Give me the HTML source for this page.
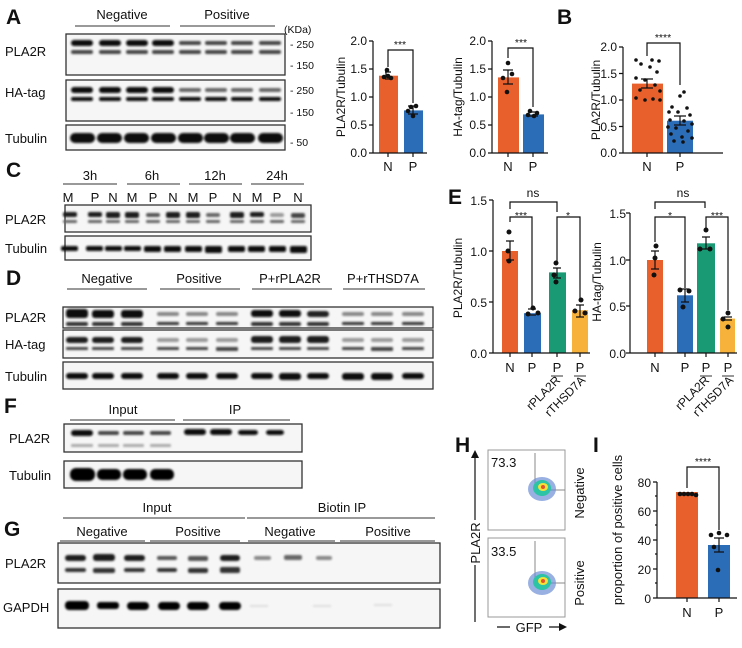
<!DOCTYPE html>
<html><head><meta charset="utf-8"><style>
body{margin:0;background:#fff}
text{font-family:"Liberation Sans",Arial,sans-serif;fill:#111}
.L{font-size:21px;font-weight:bold}
.t{font-size:13px}
.s{font-size:12px}
.k{font-size:10.5px}
.box{fill:#f6f6f6;stroke:#333;stroke-width:1.3}
.ln{stroke:#333;stroke-width:1;fill:none}
.ax{stroke:#111;stroke-width:1.2;fill:none}
</style></head><body>
<svg width="742" height="643" viewBox="0 0 742 643" xmlns="http://www.w3.org/2000/svg">
<defs><filter id="b" x="-20%" y="-50%" width="140%" height="200%"><feGaussianBlur stdDeviation="1"/></filter></defs>

<!-- A -->
<text class="L" x="6" y="24">A</text>
<text class="t" x="122" y="19" text-anchor="middle">Negative</text>
<text class="t" x="227" y="19" text-anchor="middle">Positive</text>
<line class="ln" x1="75" y1="26" x2="170" y2="26"/><line class="ln" x1="180" y1="26" x2="275" y2="26"/>
<rect class="box" x="66" y="34" width="219" height="41"/>
<rect class="box" x="66" y="80" width="219" height="41"/>
<rect class="box" x="66" y="125" width="219" height="25"/>
<text class="t" x="5" y="56">PLA2R</text><text class="t" x="5" y="97">HA-tag</text><text class="t" x="5" y="143">Tubulin</text>
<g class="k"><text x="284" y="33">(KDa)</text><text x="290" y="48">- 250</text><text x="290" y="69">- 150</text><text x="290" y="94">- 250</text><text x="290" y="116">- 150</text><text x="290" y="146">- 50</text></g>
<g filter="url(#b)">
<g fill="#111"><rect x="71" y="40" width="22" height="6" rx="3"/><rect x="99" y="40" width="22" height="6" rx="3"/><rect x="126" y="40" width="22" height="6" rx="3"/><rect x="152" y="40" width="22" height="6" rx="3"/></g>
<g fill="#444"><rect x="71" y="50" width="22" height="4" rx="2"/><rect x="99" y="50" width="22" height="4" rx="2"/><rect x="126" y="50" width="22" height="4" rx="2"/><rect x="152" y="50" width="22" height="4" rx="2"/></g>
<g fill="#444"><rect x="179" y="41" width="22" height="4" rx="2"/><rect x="205" y="41" width="22" height="4" rx="2"/><rect x="231" y="41" width="22" height="4" rx="2"/><rect x="259" y="41" width="22" height="4" rx="2"/>
<rect x="179" y="50" width="22" height="4" rx="2"/><rect x="205" y="50" width="22" height="4" rx="2"/><rect x="231" y="50" width="22" height="4" rx="2"/><rect x="259" y="50" width="22" height="4" rx="2"/></g>
<g fill="#111"><rect x="71" y="87" width="22" height="6" rx="3"/><rect x="99" y="87" width="22" height="6" rx="3"/><rect x="126" y="87" width="22" height="6" rx="3"/><rect x="152" y="87" width="22" height="6" rx="3"/>
<rect x="71" y="97" width="22" height="4" rx="2"/><rect x="99" y="97" width="22" height="4" rx="2"/><rect x="126" y="97" width="22" height="4" rx="2"/><rect x="152" y="97" width="22" height="4" rx="2"/>
<rect x="179" y="97" width="22" height="4" rx="2"/><rect x="205" y="97" width="22" height="4" rx="2"/><rect x="231" y="97" width="22" height="4" rx="2"/><rect x="259" y="97" width="22" height="4" rx="2"/></g>
<g fill="#666"><rect x="179" y="88" width="22" height="4" rx="2"/><rect x="205" y="88" width="22" height="4" rx="2"/><rect x="231" y="88" width="22" height="4" rx="2"/><rect x="259" y="88" width="22" height="4" rx="2"/></g>
<g fill="#0a0a0a"><rect x="70" y="133" width="25" height="10" rx="5"/><rect x="97" y="133" width="25" height="10" rx="5"/><rect x="124" y="133" width="25" height="10" rx="5"/><rect x="151" y="133" width="25" height="10" rx="5"/><rect x="178" y="133" width="25" height="10" rx="5"/><rect x="204" y="133" width="25" height="10" rx="5"/><rect x="230" y="133" width="25" height="10" rx="5"/><rect x="258" y="133" width="25" height="10" rx="5"/></g>
</g>

<!-- A chart 1 -->
<g>
<rect x="379" y="75.7" width="19" height="77.3" fill="#E8612C"/>
<rect x="404" y="110.4" width="19" height="42.6" fill="#2C6DB8"/>
<path class="ax" d="M373 41V153H427M369 41H373M369 69H373M369 97H373M369 125H373M369 153H373M388 153v4M413 153v4"/>
<g class="s" text-anchor="end"><text x="367" y="45">2.0</text><text x="367" y="73">1.5</text><text x="367" y="101">1.0</text><text x="367" y="129">0.5</text><text x="367" y="157">0.0</text></g>
<text class="t" x="388" y="171" text-anchor="middle">N</text><text class="t" x="413" y="171" text-anchor="middle">P</text>
<text class="s" transform="translate(345,97) rotate(-90)" text-anchor="middle">PLA2R/Tubulin</text>
<path class="ax" d="M388 67V50H413V103M385 72H391M385 79H391M386 75.7V72M408 106H418M408 114H418M413 106V114"/>
<text class="k" x="400" y="48" text-anchor="middle">***</text>
<g fill="#111"><circle cx="387" cy="70" r="2.3"/><circle cx="384" cy="77" r="2.3"/><circle cx="391" cy="78" r="2.3"/><circle cx="388" cy="76" r="2.3"/><circle cx="411" cy="107" r="2.3"/><circle cx="416" cy="106" r="2.3"/><circle cx="408" cy="111" r="2.3"/><circle cx="413" cy="116" r="2.3"/></g>
</g>
<!-- A chart 2 -->
<g>
<rect x="498" y="77.4" width="21" height="75.6" fill="#E8612C"/>
<rect x="523" y="114.4" width="21" height="38.6" fill="#2C6DB8"/>
<path class="ax" d="M492 41V153H548M488 41H492M488 69H492M488 97H492M488 125H492M488 153H492M508 153v4M533 153v4"/>
<g class="s" text-anchor="end"><text x="486" y="45">2.0</text><text x="486" y="73">1.5</text><text x="486" y="101">1.0</text><text x="486" y="129">0.5</text><text x="486" y="157">0.0</text></g>
<text class="t" x="508" y="171" text-anchor="middle">N</text><text class="t" x="533" y="171" text-anchor="middle">P</text>
<text class="s" transform="translate(462,97) rotate(-90)" text-anchor="middle">HA-tag/Tubulin</text>
<path class="ax" d="M508 58V48H533V107M503 70H513M503 84H513M508 70V84M528 112H538M528 116H538"/>
<text class="k" x="521" y="46" text-anchor="middle">***</text>
<g fill="#111"><circle cx="508" cy="63" r="2.3"/><circle cx="503" cy="78" r="2.3"/><circle cx="512" cy="74" r="2.3"/><circle cx="507" cy="92" r="2.3"/><circle cx="530" cy="111" r="2.3"/><circle cx="537" cy="113" r="2.3"/><circle cx="528" cy="115" r="2.3"/><circle cx="534" cy="116" r="2.3"/></g>
</g>
<!-- B -->
<text class="L" x="557" y="24">B</text>
<g>
<rect x="632" y="83.6" width="31" height="69.4" fill="#E8612C"/>
<rect x="667" y="120.7" width="26" height="32.3" fill="#2C6DB8"/>
<path class="ax" d="M623 47V153H723M619 47H623M619 73.5H623M619 100H623M619 126.5H623M619 153H623M647 153v4M680 153v4"/>
<g class="s" text-anchor="end"><text x="617" y="51">2.0</text><text x="617" y="78">1.5</text><text x="617" y="104">1.0</text><text x="617" y="131">0.5</text><text x="617" y="157">0.0</text></g>
<text class="t" x="647" y="171" text-anchor="middle">N</text><text class="t" x="680" y="171" text-anchor="middle">P</text>
<text class="s" transform="translate(600,100) rotate(-90)" text-anchor="middle">PLA2R/Tubulin</text>
<path class="ax" d="M647 56V43H680V85M641 79H653M641 88H653M647 79V88M674 116H686M674 125H686M680 116V125"/>
<text class="k" x="663" y="41" text-anchor="middle">****</text>
<g fill="#111"><circle cx="636" cy="60" r="1.8"/><circle cx="652" cy="60" r="1.8"/><circle cx="659" cy="61" r="1.8"/><circle cx="641" cy="64" r="1.8"/><circle cx="650" cy="67" r="1.8"/><circle cx="657" cy="72" r="1.8"/><circle cx="636" cy="78" r="1.8"/><circle cx="645" cy="80" r="1.8"/><circle cx="655" cy="85" r="1.8"/><circle cx="640" cy="90" r="1.8"/><circle cx="660" cy="91" r="1.8"/><circle cx="636" cy="98" r="1.8"/><circle cx="645" cy="100" r="1.8"/><circle cx="653" cy="99" r="1.8"/><circle cx="660" cy="100" r="1.8"/>
<circle cx="684" cy="92" r="1.8"/><circle cx="680" cy="96" r="1.8"/><circle cx="672" cy="107" r="1.8"/><circle cx="687" cy="108" r="1.8"/><circle cx="669" cy="112" r="1.8"/><circle cx="678" cy="112" r="1.8"/><circle cx="690" cy="115" r="1.8"/><circle cx="670" cy="120" r="1.8"/><circle cx="684" cy="121" r="1.8"/><circle cx="692" cy="124" r="1.8"/><circle cx="668" cy="127" r="1.8"/><circle cx="676" cy="128" r="1.8"/><circle cx="688" cy="131" r="1.8"/><circle cx="671" cy="134" r="1.8"/><circle cx="682" cy="137" r="1.8"/><circle cx="692" cy="138" r="1.8"/><circle cx="674" cy="141" r="1.8"/><circle cx="683" cy="142" r="1.8"/></g>
</g>

<!-- C -->
<text class="L" x="6" y="177">C</text>
<g class="t" text-anchor="middle"><text x="90" y="180">3h</text><text x="152" y="180">6h</text><text x="215" y="180">12h</text><text x="277" y="180">24h</text>
<text x="68" y="202">M</text><text x="95" y="202">P</text><text x="113" y="202">N</text><text x="132" y="202">M</text><text x="153" y="202">P</text><text x="173" y="202">N</text><text x="193" y="202">M</text><text x="213" y="202">P</text><text x="237" y="202">N</text><text x="257" y="202">M</text><text x="277" y="202">P</text><text x="298" y="202">N</text></g>
<path class="ln" d="M63 184H117M127 184H180M189 184H242M251 184H304"/>
<rect class="box" x="65" y="205" width="246" height="27"/>
<rect class="box" x="65" y="236" width="246" height="24"/>
<text class="t" x="5" y="224">PLA2R</text><text class="t" x="5" y="253">Tubulin</text>
<g filter="url(#b)" fill="#1a1a1a">
<rect x="63" y="212" width="14" height="5" rx="2"/><rect x="88" y="212" width="14" height="5" rx="2"/><rect x="106" y="212" width="14" height="6" rx="2"/><rect x="125" y="212" width="14" height="6" rx="2"/><rect x="146" y="213" width="14" height="4" rx="2" fill="#555"/><rect x="166" y="212" width="14" height="6" rx="2"/><rect x="186" y="212" width="14" height="6" rx="2"/><rect x="206" y="213" width="14" height="4" rx="2" fill="#666"/><rect x="230" y="212" width="14" height="6" rx="2"/><rect x="250" y="212" width="14" height="5" rx="2"/><rect x="270" y="213" width="14" height="4" rx="2" fill="#999"/><rect x="291" y="213" width="14" height="5" rx="2" fill="#444"/>
<g fill="#666"><rect x="63" y="220" width="14" height="3" rx="1"/><rect x="88" y="220" width="14" height="3" rx="1"/><rect x="106" y="220" width="14" height="3" rx="1"/><rect x="125" y="220" width="14" height="3" rx="1"/><rect x="146" y="220" width="14" height="3" rx="1"/><rect x="166" y="220" width="14" height="3" rx="1"/><rect x="186" y="220" width="14" height="3" rx="1"/><rect x="206" y="220" width="14" height="3" rx="1"/><rect x="230" y="220" width="14" height="3" rx="1"/><rect x="250" y="220" width="14" height="3" rx="1"/><rect x="270" y="220" width="14" height="3" rx="1"/><rect x="291" y="220" width="14" height="3" rx="1"/></g>
<g fill="#0a0a0a"><rect x="61" y="246" width="17" height="5" rx="2"/><rect x="86" y="246" width="17" height="5" rx="2"/><rect x="105" y="246" width="17" height="5" rx="2"/><rect x="124" y="246" width="17" height="5" rx="2"/><rect x="144" y="246" width="17" height="6" rx="2"/><rect x="164" y="246" width="17" height="6" rx="2"/><rect x="185" y="246" width="17" height="6" rx="2"/><rect x="205" y="246" width="17" height="7" rx="2"/><rect x="228" y="246" width="17" height="6" rx="2"/><rect x="248" y="246" width="17" height="6" rx="2"/><rect x="269" y="246" width="17" height="6" rx="2"/><rect x="290" y="246" width="17" height="7" rx="2"/></g>
</g>

<!-- D -->
<text class="L" x="6" y="285">D</text>
<g class="t" text-anchor="middle"><text x="107" y="283">Negative</text><text x="199" y="283">Positive</text><text x="290" y="283">P+rPLA2R</text><text x="383" y="283">P+rTHSD7A</text></g>
<path class="ln" d="M67 289H147M160 289H240M252 289H332M343 289H425"/>
<rect class="box" x="63" y="307" width="370" height="21"/>
<rect class="box" x="63" y="330" width="370" height="28"/>
<rect class="box" x="63" y="362" width="370" height="27"/>
<text class="t" x="5" y="322">PLA2R</text><text class="t" x="5" y="349">HA-tag</text><text class="t" x="5" y="381">Tubulin</text>
<g filter="url(#b)">
<g fill="#0a0a0a"><rect x="66" y="309" width="22" height="9" rx="3"/><rect x="92" y="310" width="22" height="8" rx="3"/><rect x="121" y="310" width="22" height="8" rx="3"/><rect x="251" y="310" width="22" height="7" rx="3"/><rect x="279" y="310" width="22" height="7" rx="3"/><rect x="307" y="311" width="22" height="6" rx="3" fill="#222"/></g>
<g fill="#888"><rect x="157" y="312" width="22" height="4" rx="2"/><rect x="186" y="312" width="22" height="4" rx="2"/><rect x="216" y="312" width="22" height="4" rx="2"/><rect x="342" y="312" width="22" height="4" rx="2"/><rect x="371" y="312" width="22" height="4" rx="2"/><rect x="402" y="312" width="22" height="4" rx="2"/></g>
<g fill="#333"><rect x="66" y="322" width="22" height="4" rx="2"/><rect x="92" y="322" width="22" height="4" rx="2"/><rect x="121" y="322" width="22" height="4" rx="2"/><rect x="157" y="322" width="22" height="3" rx="1"/><rect x="186" y="322" width="22" height="3" rx="1"/><rect x="216" y="322" width="22" height="3" rx="1"/><rect x="251" y="322" width="22" height="4" rx="2"/><rect x="279" y="322" width="22" height="4" rx="2"/><rect x="307" y="322" width="22" height="4" rx="2"/><rect x="342" y="322" width="22" height="3" rx="1"/><rect x="371" y="322" width="22" height="3" rx="1"/><rect x="402" y="322" width="22" height="3" rx="1"/></g>
<g fill="#1a1a1a"><rect x="66" y="337" width="22" height="6" rx="3"/><rect x="92" y="337" width="22" height="6" rx="3"/><rect x="121" y="337" width="22" height="6" rx="3"/><rect x="251" y="336" width="22" height="7" rx="3"/><rect x="279" y="336" width="22" height="7" rx="3"/><rect x="307" y="336" width="22" height="7" rx="3"/></g>
<g fill="#999"><rect x="157" y="338" width="22" height="4" rx="2"/><rect x="186" y="338" width="22" height="4" rx="2"/><rect x="216" y="338" width="22" height="4" rx="2"/><rect x="342" y="338" width="22" height="4" rx="2"/><rect x="371" y="338" width="22" height="4" rx="2"/><rect x="402" y="338" width="22" height="4" rx="2"/></g>
<g fill="#444"><rect x="66" y="347" width="22" height="3" rx="1"/><rect x="92" y="347" width="22" height="3" rx="1"/><rect x="121" y="347" width="22" height="3" rx="1"/><rect x="157" y="347" width="22" height="3" rx="1"/><rect x="186" y="347" width="22" height="3" rx="1"/><rect x="216" y="347" width="22" height="4" rx="1"/><rect x="251" y="347" width="22" height="3" rx="1"/><rect x="279" y="347" width="22" height="3" rx="1"/><rect x="307" y="347" width="22" height="3" rx="1"/><rect x="342" y="347" width="22" height="3" rx="1"/><rect x="371" y="347" width="22" height="4" rx="1"/><rect x="402" y="347" width="22" height="3" rx="1"/></g>
<g fill="#0a0a0a"><rect x="66" y="373" width="22" height="6" rx="3"/><rect x="92" y="373" width="22" height="6" rx="3"/><rect x="121" y="373" width="22" height="6" rx="3"/><rect x="157" y="373" width="22" height="6" rx="3"/><rect x="186" y="373" width="22" height="6" rx="3"/><rect x="216" y="373" width="22" height="6" rx="3"/><rect x="251" y="373" width="22" height="6" rx="3"/><rect x="279" y="373" width="22" height="7" rx="3"/><rect x="307" y="373" width="22" height="6" rx="3"/><rect x="342" y="373" width="22" height="7" rx="3"/><rect x="371" y="373" width="22" height="7" rx="3"/><rect x="402" y="373" width="22" height="6" rx="3"/></g>
</g>

<!-- E -->
<text class="L" x="448" y="204">E</text>
<g>
<rect x="502" y="251" width="16" height="102" fill="#E8612C"/>
<rect x="524" y="313.2" width="17" height="39.8" fill="#2C6DB8"/>
<rect x="549" y="272.4" width="17" height="80.6" fill="#199A74"/>
<rect x="572" y="310.2" width="16" height="42.8" fill="#F7B23B"/>
<path class="ax" d="M493 200V353H590M489 200H493M489 251H493M489 302H493M489 353H493M510 353v4M532 353v4M557 353v4M580 353v4"/>
<g class="s" text-anchor="end"><text x="487" y="205">1.5</text><text x="487" y="256">1.0</text><text x="487" y="307">0.5</text><text x="487" y="358">0.0</text></g>
<text class="s" transform="translate(462,278) rotate(-90)" text-anchor="middle">PLA2R/Tubulin</text>
<path class="ax" d="M510 209V202H557V212M510 222V217H532V308M557 262V217H580V300M506 241H514M506 260H514M510 241V260M528 309H536M528 315H536M553 268H561M553 278H561M557 268V278M576 305H584M576 317H584M580 305V317"/>
<text class="s" x="533" y="197" text-anchor="middle">ns</text>
<text class="k" x="521" y="219" text-anchor="middle">***</text><text class="k" x="568" y="219" text-anchor="middle">*</text>
<g fill="#111"><circle cx="509" cy="232" r="2.5"/><circle cx="508" cy="251" r="2.5"/><circle cx="509" cy="261" r="2.5"/><circle cx="528" cy="314" r="2.5"/><circle cx="533" cy="308" r="2.5"/><circle cx="538" cy="313" r="2.5"/><circle cx="556" cy="263" r="2.5"/><circle cx="554" cy="275" r="2.5"/><circle cx="556" cy="282" r="2.5"/><circle cx="581" cy="300" r="2.5"/><circle cx="575" cy="311" r="2.5"/><circle cx="585" cy="313" r="2.5"/></g>
<g class="t" text-anchor="middle"><text x="510" y="372">N</text><text x="532" y="372">P</text><text x="557" y="372">P</text><text x="580" y="372">P</text></g>
<path class="ln" d="M551 376H563M574 376H586"/>
<text class="s" transform="translate(561,381) rotate(-45)" text-anchor="end">rPLA2R</text>
<text class="s" transform="translate(586,381) rotate(-45)" text-anchor="end">rTHSD7A</text>
</g>
<g>
<rect x="647" y="260" width="16" height="93" fill="#E8612C"/>
<rect x="677" y="295.3" width="16" height="57.7" fill="#2C6DB8"/>
<rect x="697" y="243.3" width="18" height="109.7" fill="#199A74"/>
<rect x="720" y="318.6" width="15" height="34.4" fill="#F7B23B"/>
<path class="ax" d="M630 213V353H737M626 213H630M626 260H630M626 306H630M626 353H630M655 353v4M685 353v4M706 353v4M728 353v4"/>
<g class="s" text-anchor="end"><text x="626" y="218">1.5</text><text x="626" y="265">1.0</text><text x="626" y="311">0.5</text><text x="626" y="358">0.0</text></g>
<text class="s" transform="translate(601,282) rotate(-90)" text-anchor="middle">HA-tag/Tubulin</text>
<path class="ax" d="M655 209V202H705V208M655 242V217H685V288M706 230V217H728V310M651 251H659M651 269H659M655 251V269M681 289H689M681 302H689M685 289V302M702 237H710M702 249H710M706 237V249M724 317H732M724 320H732"/>
<text class="s" x="683" y="197" text-anchor="middle">ns</text>
<text class="k" x="670" y="219" text-anchor="middle">*</text><text class="k" x="717" y="219" text-anchor="middle">***</text>
<g fill="#111"><circle cx="656" cy="246" r="2.5"/><circle cx="655" cy="258" r="2.5"/><circle cx="654" cy="275" r="2.5"/><circle cx="680" cy="290" r="2.5"/><circle cx="689" cy="291" r="2.5"/><circle cx="683" cy="307" r="2.5"/><circle cx="706" cy="230" r="2.5"/><circle cx="700" cy="249" r="2.5"/><circle cx="710" cy="249" r="2.5"/><circle cx="728" cy="313" r="2.5"/><circle cx="723" cy="319" r="2.5"/><circle cx="728" cy="327" r="2.5"/></g>
<g class="t" text-anchor="middle"><text x="655" y="372">N</text><text x="685" y="372">P</text><text x="706" y="372">P</text><text x="728" y="372">P</text></g>
<path class="ln" d="M700 376H712M722 376H734"/>
<text class="s" transform="translate(710,381) rotate(-45)" text-anchor="end">rPLA2R</text>
<text class="s" transform="translate(734,381) rotate(-45)" text-anchor="end">rTHSD7A</text>
</g>

<!-- F -->
<text class="L" x="4" y="413">F</text>
<text class="t" x="123" y="414" text-anchor="middle">Input</text><text class="t" x="235" y="414" text-anchor="middle">IP</text>
<path class="ln" d="M70 420H175M183 420H290"/>
<rect class="box" x="64" y="424" width="238" height="28"/>
<rect class="box" x="64" y="461" width="238" height="27"/>
<text class="t" x="9" y="443">PLA2R</text><text class="t" x="9" y="480">Tubulin</text>
<g filter="url(#b)">
<g fill="#111"><rect x="71" y="430" width="22" height="6" rx="3"/><rect x="184" y="429" width="22" height="6" rx="3"/><rect x="210" y="429" width="22" height="6" rx="3"/><rect x="238" y="430" width="20" height="5" rx="3"/><rect x="266" y="430" width="18" height="5" rx="3"/></g>
<g fill="#444"><rect x="98" y="431" width="21" height="4" rx="2"/><rect x="123" y="431" width="21" height="4" rx="2"/><rect x="150" y="431" width="21" height="4" rx="2"/></g>
<g fill="#aaa"><rect x="71" y="444" width="22" height="3" rx="1"/><rect x="98" y="444" width="21" height="3" rx="1"/><rect x="123" y="444" width="21" height="3" rx="1"/><rect x="150" y="444" width="21" height="3" rx="1"/></g>
<g fill="#050505"><rect x="70" y="468" width="25" height="13" rx="6"/><rect x="97" y="469" width="24" height="11" rx="5"/><rect x="123" y="469" width="24" height="11" rx="5"/><rect x="150" y="469" width="24" height="11" rx="5"/></g>
</g>

<!-- G -->
<text class="t" x="157" y="512" text-anchor="middle">Input</text><text class="t" x="342" y="512" text-anchor="middle">Biotin IP</text>
<path class="ln" d="M63 518H245M247 518H435"/>
<text class="L" x="4" y="536">G</text>
<g class="t" text-anchor="middle"><text x="102" y="536">Negative</text><text x="198" y="536">Positive</text><text x="290" y="536">Negative</text><text x="388" y="536">Positive</text></g>
<path class="ln" d="M60 541H145M150 541H240M248 541H335M340 541H435"/>
<rect class="box" x="58" y="543" width="382" height="40"/>
<rect class="box" x="58" y="589" width="382" height="39"/>
<text class="t" x="5" y="568">PLA2R</text><text class="t" x="3" y="612">GAPDH</text>
<g filter="url(#b)">
<g fill="#1a1a1a"><rect x="65" y="555" width="21" height="6" rx="3"/><rect x="93" y="554" width="22" height="7" rx="3"/><rect x="124" y="555" width="21" height="6" rx="3"/><rect x="220" y="555" width="20" height="6" rx="3"/></g>
<g fill="#555"><rect x="157" y="556" width="20" height="4" rx="2"/><rect x="188" y="556" width="20" height="5" rx="2"/></g>
<g fill="#333"><rect x="65" y="568" width="21" height="4" rx="2"/><rect x="93" y="568" width="22" height="5" rx="2"/><rect x="124" y="568" width="21" height="4" rx="2"/><rect x="157" y="568" width="20" height="4" rx="2"/><rect x="188" y="568" width="20" height="5" rx="2"/><rect x="220" y="567" width="20" height="6" rx="2"/></g>
<g fill="#888"><rect x="254" y="556" width="17" height="4" rx="2"/><rect x="284" y="555" width="18" height="5" rx="2" fill="#666"/><rect x="316" y="556" width="16" height="4" rx="2"/></g>
<g fill="#050505"><rect x="65" y="601" width="24" height="9" rx="4"/><rect x="97" y="602" width="22" height="7" rx="3"/><rect x="127" y="602" width="22" height="8" rx="4"/><rect x="158" y="602" width="22" height="8" rx="4"/><rect x="187" y="602" width="22" height="8" rx="4"/><rect x="219" y="602" width="22" height="8" rx="4"/></g>
<g fill="#ddd"><rect x="250" y="605" width="18" height="2"/><rect x="313" y="605" width="18" height="2"/><rect x="374" y="604" width="18" height="2"/></g>
</g>

<!-- H -->
<text class="L" x="455" y="452">H</text>
<rect x="488" y="450" width="77" height="80" fill="#fff" stroke="#999"/>
<rect x="488" y="538" width="77" height="79" fill="#fff" stroke="#999"/>
<path d="M535 453V490H565M535 541V583H565" stroke="#888" fill="none"/>
<g>
<ellipse cx="542" cy="489" rx="14" ry="12" fill="#6d8fd6" opacity=".7"/><ellipse cx="542" cy="488" rx="9" ry="8" fill="#2dc3a5"/><ellipse cx="543" cy="487" rx="5" ry="4" fill="#f2e23a"/><circle cx="543" cy="487" r="2" fill="#e5532a"/>
<ellipse cx="542" cy="583" rx="14" ry="12" fill="#6d8fd6" opacity=".7"/><ellipse cx="542" cy="582" rx="9" ry="8" fill="#2dc3a5"/><ellipse cx="543" cy="581" rx="5" ry="4" fill="#f2e23a"/><circle cx="543" cy="581" r="2" fill="#e5532a"/>
</g>
<text class="t" x="491" y="467">73.3</text><text class="t" x="491" y="556">33.5</text>
<text class="t" transform="translate(584,493) rotate(-90)" text-anchor="middle">Negative</text>
<text class="t" transform="translate(584,583) rotate(-90)" text-anchor="middle">Positive</text>
<path class="ax" d="M475 520V456M475 565V622"/><path d="M471 458L475 450L479 458Z" fill="#111"/>
<text class="t" transform="translate(480,543) rotate(-90)" text-anchor="middle">PLA2R</text>
<path class="ax" d="M497 627H510M549 627H561"/><path d="M559 623L567 627L559 631Z" fill="#111"/>
<text class="t" x="529" y="632" text-anchor="middle">GFP</text>

<!-- I -->
<text class="L" x="593" y="452">I</text>
<rect x="676" y="492" width="22" height="106" fill="#E8612C"/>
<rect x="708" y="545" width="22" height="53" fill="#2C6DB8"/>
<path class="ax" d="M657 482V598H737M653 482H657M653 511H657M653 540H657M653 569H657M653 598H657M655 496H657M655 525H657M655 554H657M655 583H657M687 598v4M719 598v4"/>
<g class="s" text-anchor="end"><text x="651" y="487">80</text><text x="651" y="516">60</text><text x="651" y="545">40</text><text x="651" y="574">20</text><text x="651" y="603">0</text></g>
<text class="t" transform="translate(622,530) rotate(-90)" text-anchor="middle">proportion of positive cells</text>
<text class="t" x="687" y="617" text-anchor="middle">N</text><text class="t" x="719" y="617" text-anchor="middle">P</text>
<path class="ax" d="M687 488V467H719V530M714 538H724M714 552H724M719 538V552"/>
<text class="k" x="703" y="465" text-anchor="middle">****</text>
<g fill="#111"><circle cx="680" cy="494" r="2.3"/><circle cx="684" cy="494" r="2.3"/><circle cx="688" cy="494" r="2.3"/><circle cx="692" cy="494" r="2.3"/><circle cx="696" cy="495" r="2.3"/><circle cx="711" cy="535" r="2.3"/><circle cx="719" cy="533" r="2.3"/><circle cx="727" cy="535" r="2.3"/><circle cx="714" cy="547" r="2.3"/><circle cx="718" cy="570" r="2.3"/></g>
</svg>
</body></html>
